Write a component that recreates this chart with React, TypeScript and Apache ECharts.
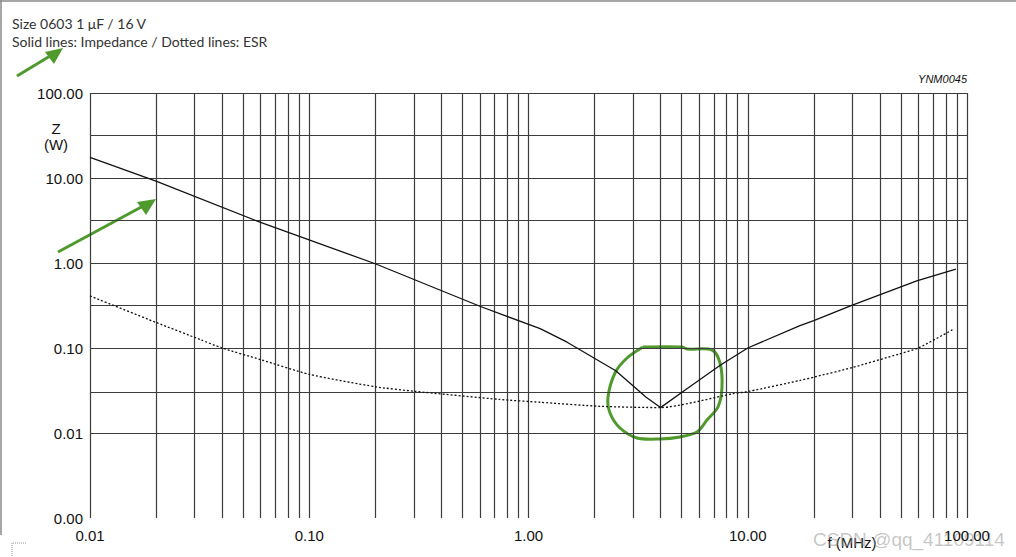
import React, { useEffect, useRef } from "react";
import * as echarts from "echarts";

// Impedance |Z| (solid), frequency in MHz, value in ohm
const freqZ = [0.01, 0.02, 0.06, 0.2, 0.6, 1.13, 1.5, 2.5, 3.44, 4.0, 5.26, 7.46, 10, 17.3, 20, 30, 59, 89];
const impedance = [17.5, 9.2, 3.0, 0.98, 0.31, 0.169, 0.117, 0.054, 0.0264, 0.0199, 0.033, 0.0623, 0.1, 0.183, 0.21, 0.32, 0.617, 0.846];

// ESR (dotted)
const freqEsr = [0.01, 0.02, 0.032, 0.04, 0.06, 0.1, 0.2, 0.3, 0.74, 1.13, 2.12, 4.0, 8.58, 10.2, 17.3, 20, 30, 49, 60, 87];
const esr = [0.41, 0.2, 0.125, 0.1, 0.073, 0.049, 0.035, 0.031, 0.0248, 0.023, 0.0206, 0.0199, 0.029, 0.031, 0.0415, 0.0454, 0.059, 0.085, 0.1, 0.167];

// Grid lines
const xGrid = [
  0.01, 0.02, 0.03, 0.04, 0.05, 0.06, 0.07, 0.08, 0.09,
  0.1, 0.2, 0.3, 0.4, 0.5, 0.6, 0.7, 0.8, 0.9,
  1, 2, 3, 4, 5, 6, 7, 8, 9,
  10, 20, 30, 40, 50, 60, 70, 80, 90, 100,
];
const yGrid = [0.001, 0.00316, 0.01, 0.0316, 0.1, 0.316, 1, 3.16, 10, 31.6, 100];

// Tick labels (decades)
const xTickLabels = ["0.01", "0.10", "1.00", "10.00", "100.00"];
const yTickLabels = ["0.00", "0.01", "0.10", "1.00", "10.00", "100.00"];

const titleLines = ["Size 0603 1 μF / 16 V", "Solid lines: Impedance / Dotted lines: ESR"];

const loopPts = [
  [643, 347], [682, 347], [687, 349], [712, 350], [720, 363], [722, 387], [718, 407],
  [707, 420], [697, 432], [680, 437], [660, 439], [637, 438], [620, 428], [610, 413],
  [608, 397], [615, 373], [627, 358], [643, 347],
];

const GREEN = "#4f9a2c";
const FONT = "'Liberation Sans', Arial, Helvetica, sans-serif";

export default function App() {
  const ref = useRef<HTMLDivElement>(null);
  useEffect(() => {
    document.body.style.margin = "0";
    const chart = echarts.init(ref.current!, null, { renderer: "svg", width: 1016, height: 557 });
    const fmt = (v: number) => Number(v).toFixed(2);
    chart.setOption({
      animation: false,
      backgroundColor: "#ffffff",
      grid: { left: 90, right: 49, top: 93, bottom: 39, containLabel: false },
      xAxis: {
        type: "log",
        logBase: 10,
        min: 0.01,
        max: 100,
        axisLine: { show: false },
        axisTick: { show: false },
        splitLine: { show: false },
        axisLabel: {
          formatter: (v: number) => {
            const i = Math.round(Math.log10(v) + 2);
            return xTickLabels[i] ?? fmt(v);
          },
          color: "#111",
          fontSize: 15,
          fontFamily: FONT,
          margin: 10,
        },
      },
      yAxis: {
        type: "log",
        logBase: 10,
        min: 0.001,
        max: 100,
        axisLine: { show: false },
        axisTick: { show: false },
        splitLine: { show: false },
        axisLabel: {
          formatter: (v: number) => {
            const i = Math.round(Math.log10(v) + 3);
            return yTickLabels[i] ?? fmt(v);
          },
          color: "#111",
          fontSize: 15,
          fontFamily: FONT,
          margin: 7,
        },
      },
      series: [
        {
          type: "line",
          data: [[0.01, 0.001]],
          symbol: "none",
          lineStyle: { opacity: 0 },
          silent: true,
          markLine: {
            silent: true,
            symbol: ["none", "none"],
            label: { show: false },
            emphasis: { disabled: true },
            lineStyle: { color: "#3c3c3c", width: 1.2, type: "solid" },
            data: [
              ...xGrid.map((v) => ({ xAxis: v })),
              ...yGrid.map((v) => ({ yAxis: v })),
            ],
          },
        },
        {
          name: "Impedance",
          type: "line",
          data: freqZ.map((f, i) => [f, impedance[i]]),
          symbol: "none",
          smooth: false,
          lineStyle: { color: "#111", width: 1.3 },
          z: 5,
        },
        {
          name: "ESR",
          type: "line",
          data: freqEsr.map((f, i) => [f, esr[i]]),
          symbol: "none",
          smooth: 0.2,
          lineStyle: { color: "#111", width: 1.3, type: [2, 2] },
          z: 5,
        },
      ],
      graphic: [
        { type: "line", shape: { x1: 0, y1: 1, x2: 1016, y2: 1 }, style: { stroke: "#888", lineWidth: 1.5 } },
        { type: "line", shape: { x1: 1, y1: 0, x2: 1, y2: 535 }, style: { stroke: "#888", lineWidth: 1.5 } },
        { type: "polyline", shape: { points: [[26, 543], [12, 543], [12, 557]] }, style: { stroke: "#999", lineWidth: 1, lineDash: [1, 1], fill: null } },
        {
          type: "text", x: 12, y: 23,
          style: { text: titleLines[0], font: "14px Lato, 'Noto Sans', sans-serif", fill: "#333", textVerticalAlign: "middle" },
        },
        {
          type: "text", x: 12, y: 41,
          style: { text: titleLines[1], font: "14px Lato, 'Noto Sans', sans-serif", fill: "#333", textVerticalAlign: "middle" },
        },
        {
          type: "text", x: 967, y: 79,
          style: { text: "YNM0045", font: "italic 11px " + FONT, fill: "#111", textAlign: "right", textVerticalAlign: "middle" },
        },
        {
          type: "text", x: 56, y: 128,
          style: { text: "Z", font: "15px " + FONT, fill: "#111", textAlign: "center", textVerticalAlign: "middle" },
        },
        {
          type: "text", x: 56, y: 144,
          style: { text: "(W)", font: "15px " + FONT, fill: "#111", textAlign: "center", textVerticalAlign: "middle" },
        },
        {
          type: "text", x: 852, y: 542,
          style: { text: "f (MHz)", font: "15px " + FONT, fill: "#111", textAlign: "center", textVerticalAlign: "middle" },
        },
        {
          type: "text", x: 813, y: 539,
          style: { text: "CSDN @qq_41109114", font: "19px " + FONT, fill: "rgba(150,150,150,0.55)", textAlign: "left", textVerticalAlign: "middle" },
        },
        { type: "line", shape: { x1: 17, y1: 76, x2: 55, y2: 53 }, style: { stroke: GREEN, lineWidth: 3 } },
        { type: "polygon", shape: { points: [[63, 48], [45, 52], [54, 64]] }, style: { fill: GREEN } },
        { type: "line", shape: { x1: 58, y1: 252, x2: 145, y2: 205 }, style: { stroke: GREEN, lineWidth: 3 } },
        { type: "polygon", shape: { points: [[156, 199], [137, 202], [146, 215]] }, style: { fill: GREEN } },
        { type: "polyline", shape: { points: loopPts, smooth: 0.3 }, style: { stroke: GREEN, lineWidth: 3, fill: null } },
      ],
    });
    return () => chart.dispose();
  }, []);
  return <div ref={ref} style={{ width: 1016, height: 557 }} />;
}
